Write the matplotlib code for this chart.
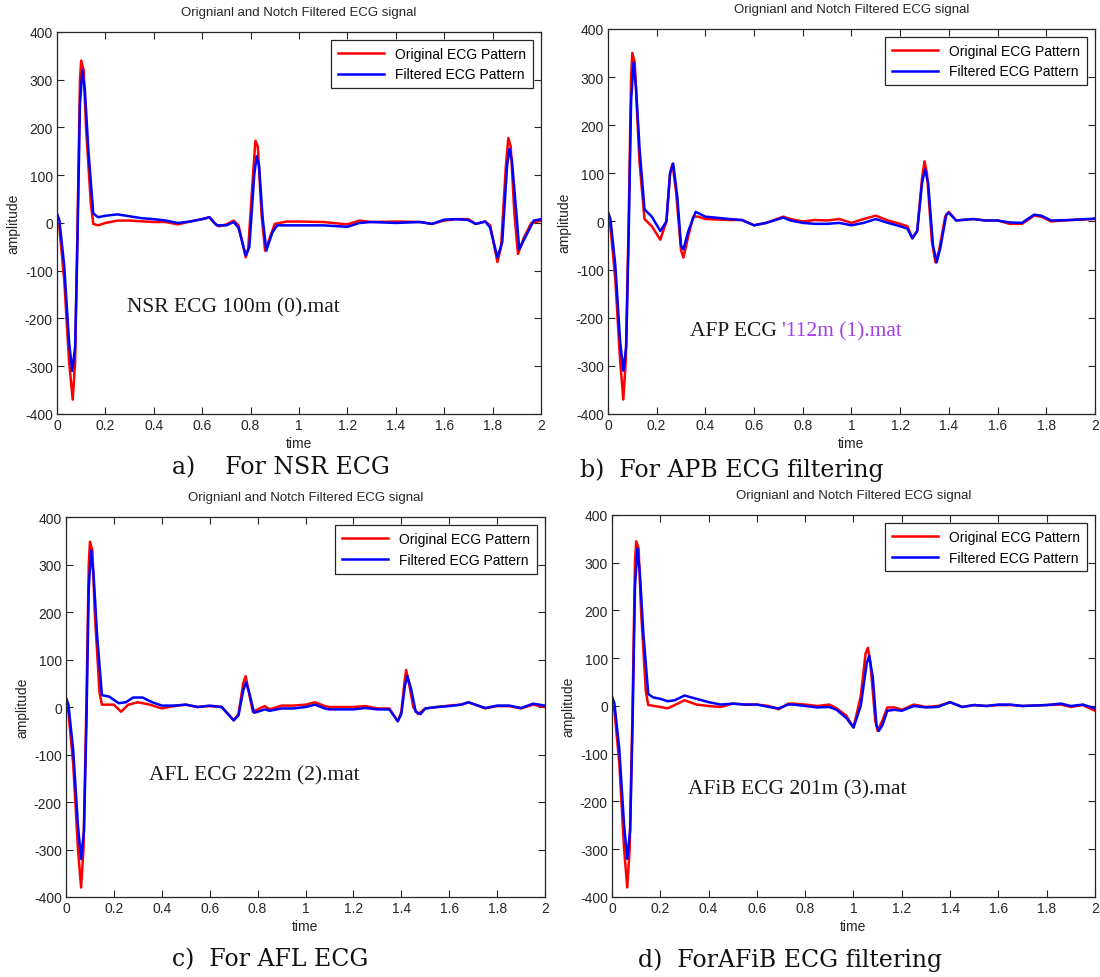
import numpy as np
import matplotlib
matplotlib.use("Agg")
import matplotlib.pyplot as plt

plt.rcParams['font.family'] = ['Liberation Sans', 'DejaVu Sans']
plt.rcParams['axes.unicode_minus'] = False

# a) NSR 100m
nsr_t_orig = [0, 0.01, 0.03, 0.05, 0.065, 0.075, 0.085, 0.095, 0.1, 0.11, 0.12, 0.14, 0.15, 0.17, 0.2,
              0.25, 0.3, 0.4, 0.45, 0.5, 0.55, 0.6, 0.63, 0.65, 0.67, 0.7, 0.73, 0.75, 0.78, 0.79,
              0.81, 0.82, 0.83, 0.845, 0.86, 0.88, 0.9, 0.95, 1.0, 1.1, 1.2, 1.25, 1.3, 1.4, 1.5,
              1.55, 1.6, 1.65, 1.7, 1.73, 1.77, 1.79, 1.82, 1.835, 1.855, 1.865, 1.875, 1.89, 1.905,
              1.93, 1.96, 2.0]
nsr_orig = [0, -10, -120, -290, -370, -290, 0, 300, 340, 320, 200, 40, -2, -5, 0,
            5, 5, 2, 2, -3, 3, 8, 12, 0, -7, -3, 5, -5, -72, -55,
            100, 172, 160, 20, -58, -30, -2, 3, 3, 2, -3, 5, 2, 3, 2,
            -2, 5, 8, 8, -2, 3, -5, -82, -50, 120, 178, 160, 20, -65,
            -30, 0, 5]
nsr_t_filt = [0, 0.01, 0.03, 0.05, 0.063, 0.075, 0.085, 0.095, 0.105, 0.115, 0.13, 0.15, 0.17, 0.2,
              0.25, 0.3, 0.35, 0.4, 0.45, 0.5, 0.55, 0.6, 0.63, 0.66, 0.7, 0.73, 0.75, 0.78, 0.795,
              0.815, 0.825, 0.835, 0.85, 0.865, 0.89, 0.91, 1.0, 1.1, 1.2, 1.25, 1.3, 1.4, 1.5,
              1.55, 1.6, 1.65, 1.7, 1.73, 1.77, 1.79, 1.82, 1.84, 1.86, 1.87, 1.88, 1.9, 1.91,
              1.94, 1.97, 2.0]
nsr_filt = [20, 5, -90, -250, -310, -260, -30, 250, 320, 280, 150, 20, 12, 15,
            18, 14, 10, 8, 5, 0, 3, 8, 12, -5, -5, 2, -10, -68, -50,
            100, 140, 120, 10, -58, -20, -5, -5, -5, -8, 0, 2, 0, 2,
            -2, 7, 8, 6, -2, 3, -10, -72, -40, 120, 155, 130, 10, -55,
            -25, 5, 8]

# b) APB 112m
apb_t_orig = [0, 0.01, 0.03, 0.05, 0.063, 0.073, 0.085, 0.095, 0.1, 0.11, 0.12, 0.13, 0.15, 0.18,
              0.215, 0.24, 0.255, 0.265, 0.28, 0.3, 0.31, 0.33, 0.35, 0.37, 0.4, 0.5, 0.55, 0.6,
              0.65, 0.72, 0.75, 0.8, 0.85, 0.9, 0.95, 1.0, 1.05, 1.1, 1.15, 1.2, 1.23, 1.25, 1.27,
              1.29, 1.3, 1.31, 1.33, 1.345, 1.36, 1.385, 1.4, 1.43, 1.5, 1.55, 1.6, 1.65, 1.7,
              1.75, 1.78, 1.82, 1.9, 2.0]
apb_orig = [0, -10, -120, -290, -370, -290, 0, 300, 350, 330, 220, 120, 5, -10,
            -38, 0, 100, 120, 60, -60, -75, -30, 10, 10, 5, 3, 3, -8,
            -3, 10, 5, 0, 3, 2, 5, -3, 5, 12, 2, -5, -10, -35, -20,
            90, 125, 100, -40, -85, -60, 10, 20, 2, 5, 2, 2, -5, -5,
            12, 10, 0, 3, 5]
apb_t_filt = [0, 0.01, 0.03, 0.05, 0.063, 0.075, 0.085, 0.095, 0.105, 0.115, 0.13, 0.15, 0.18,
              0.215, 0.24, 0.255, 0.268, 0.285, 0.3, 0.31, 0.33, 0.36, 0.4, 0.5, 0.55, 0.6,
              0.65, 0.72, 0.75, 0.8, 0.85, 0.9, 0.95, 1.0, 1.05, 1.1, 1.15, 1.2, 1.23, 1.25, 1.27,
              1.29, 1.302, 1.315, 1.335, 1.35, 1.365, 1.39, 1.4, 1.43, 1.5, 1.55, 1.6, 1.65, 1.7,
              1.75, 1.78, 1.82, 1.9, 2.0]
apb_filt = [20, 5, -90, -250, -310, -260, -30, 250, 330, 280, 150, 25, 10,
            -20, 0, 100, 120, 50, -50, -58, -20, 20, 10, 5, 3, -8,
            -3, 8, 2, -3, -5, -5, -3, -8, -3, 5, -3, -10, -15, -35, -20,
            80, 108, 80, -50, -85, -55, 15, 18, 2, 5, 2, 2, -2, -3,
            14, 12, 2, 3, 6]

# c) AFL 222m
afl_t_orig = [0, 0.01, 0.03, 0.05, 0.063, 0.073, 0.085, 0.095, 0.1, 0.11, 0.12, 0.14, 0.15, 0.2,
              0.23, 0.26, 0.3, 0.35, 0.4, 0.45, 0.5, 0.55, 0.6, 0.65, 0.7, 0.72, 0.74, 0.75, 0.76,
              0.78, 0.8, 0.83, 0.85, 0.9, 0.95, 1.0, 1.04, 1.08, 1.1, 1.2, 1.25, 1.3, 1.35, 1.385,
              1.4, 1.415, 1.42, 1.43, 1.45, 1.47, 1.5, 1.55, 1.6, 1.65, 1.68, 1.72, 1.75, 1.8,
              1.85, 1.9, 1.95, 2.0]
afl_orig = [0, -10, -120, -300, -380, -300, 0, 300, 348, 330, 200, 30, 5, 5,
            -10, 5, 10, 5, -3, 2, 5, 0, 2, 0, -28, -15, 50, 65, 40,
            -10, -5, 2, -5, 3, 3, 5, 10, 2, 0, 0, 2, -3, -3, -30,
            -10, 60, 78, 55, 0, -15, -3, 0, 3, 5, 10, 3, -3, 2,
            2, -3, 5, 0]
afl_t_filt = [0, 0.01, 0.03, 0.05, 0.063, 0.075, 0.085, 0.095, 0.105, 0.115, 0.13, 0.15, 0.18,
              0.22, 0.25, 0.28, 0.32, 0.36, 0.4, 0.45, 0.5, 0.55, 0.6, 0.65, 0.7, 0.72, 0.74,
              0.752, 0.765, 0.785, 0.8, 0.83, 0.85, 0.9, 0.95, 1.0, 1.04, 1.08, 1.1, 1.2, 1.25,
              1.3, 1.35, 1.385, 1.4, 1.415, 1.425, 1.44, 1.46, 1.48, 1.5, 1.55, 1.6, 1.65, 1.68,
              1.72, 1.75, 1.8, 1.85, 1.9, 1.95, 2.0]
afl_filt = [20, 5, -90, -250, -320, -260, -40, 250, 330, 280, 150, 25, 22,
            8, 10, 20, 20, 10, 3, 3, 5, 0, 3, 0, -28, -18, 35,
            52, 30, -12, -10, -5, -8, -3, -3, 0, 5, -3, -5, -5, -2,
            -5, -5, -30, -15, 45, 65, 40, -10, -15, -3, 0, 2, 5, 10,
            3, -2, 3, 3, -2, 7, 3]

# d) AFiB 201m
afib_t_orig = [0, 0.01, 0.03, 0.05, 0.063, 0.073, 0.085, 0.095, 0.1, 0.11, 0.12, 0.14, 0.15, 0.2,
               0.23, 0.26, 0.3, 0.35, 0.4, 0.45, 0.5, 0.55, 0.6, 0.65, 0.69, 0.73, 0.75, 0.8,
               0.85, 0.9, 0.93, 0.97, 1.0, 1.03, 1.05, 1.06, 1.07, 1.09, 1.1, 1.12, 1.14, 1.17,
               1.2, 1.25, 1.3, 1.35, 1.4, 1.45, 1.5, 1.55, 1.6, 1.65, 1.7, 1.8, 1.86, 1.9, 1.95, 2.0]
afib_orig = [0, -10, -120, -300, -380, -300, 0, 300, 345, 330, 200, 30, 2, -2,
             -5, 2, 12, 3, 0, -2, 5, 3, 3, 0, -7, 5, 5, 3,
             0, 3, -5, -20, -45, 20, 110, 122, 90, -30, -52, -30, -3, -3,
             -8, 3, -2, 0, 8, -2, 2, 0, 2, 2, 0, 2, 3, -2, 2, -10]
afib_t_filt = [0, 0.01, 0.03, 0.05, 0.063, 0.075, 0.085, 0.095, 0.105, 0.115, 0.13, 0.15, 0.17,
               0.2, 0.23, 0.26, 0.3, 0.35, 0.4, 0.45, 0.5, 0.55, 0.6, 0.65, 0.69, 0.73, 0.75,
               0.8, 0.85, 0.9, 0.93, 0.97, 1.0, 1.03, 1.055, 1.065, 1.08, 1.095, 1.105, 1.12,
               1.14, 1.17, 1.2, 1.25, 1.3, 1.35, 1.4, 1.45, 1.5, 1.55, 1.6, 1.65, 1.7, 1.8,
               1.86, 1.9, 1.95, 2.0]
afib_filt = [20, 5, -90, -250, -320, -260, -40, 250, 330, 280, 150, 25, 18,
             15, 10, 12, 22, 15, 8, 3, 5, 3, 3, -2, -5, 3, 3,
             0, -3, -2, -8, -25, -45, 0, 90, 105, 60, -40, -52, -40,
             -10, -8, -10, 0, -3, -2, 8, -2, 2, 0, 3, 3, 0, 2,
             5, 0, 3, -5]

x_ticks = [0, 0.2, 0.4, 0.6, 0.8, 1, 1.2, 1.4, 1.6, 1.8, 2]
x_tick_labels = ["0", "0.2", "0.4", "0.6", "0.8", "1", "1.2", "1.4", "1.6", "1.8", "2"]
y_ticks = [-400, -300, -200, -100, 0, 100, 200, 300, 400]


# 画一个子图: 原始信号 + 滤波后信号
def draw_panel(rect, t_orig, y_orig, t_filt, y_filt):
    ax = fig.add_axes(rect)
    ax.plot(t_orig, y_orig, color="#ff0000", lw=1.8, label="Original ECG Pattern")
    ax.plot(t_filt, y_filt, color="#0000ff", lw=1.8, label="Filtered ECG Pattern")
    ax.set_xlim(0, 2)
    ax.set_ylim(-400, 400)
    ax.set_xticks(x_ticks)
    ax.set_xticklabels(x_tick_labels)
    ax.set_yticks(y_ticks)
    ax.tick_params(direction="in", top=True, right=True, length=5, width=0.8,
                   labelsize=10, colors="#262626", pad=3)
    for s in ax.spines.values():
        s.set_linewidth(0.9)
        s.set_color("#262626")
    ax.set_title("Orignianl and Notch Filtered ECG signal", fontsize=9.5, pad=12, color="#262626")
    ax.set_xlabel("time", fontsize=10, labelpad=3, color="#262626")
    ax.set_ylabel("amplitude", fontsize=10, labelpad=3, color="#262626")
    leg = ax.legend(loc="upper right", fontsize=10, handlelength=3.3, fancybox=False,
                    framealpha=1, edgecolor="#262626", borderaxespad=0.6,
                    labelspacing=0.45, borderpad=0.5, handletextpad=0.8)
    leg.get_frame().set_linewidth(0.9)
    return ax


fig = plt.figure(figsize=(11, 9.78), dpi=100)

# 1, 四个子图 (位置按像素换算)
ax_a = draw_panel([0.0518, 0.5757, 0.44, 0.3906], nsr_t_orig, nsr_orig, nsr_t_filt, nsr_filt)
ax_b = draw_panel([0.5527, 0.5757, 0.4427, 0.3937], apb_t_orig, apb_orig, apb_t_filt, apb_filt)
ax_c = draw_panel([0.06, 0.0818, 0.4355, 0.3885], afl_t_orig, afl_orig, afl_t_filt, afl_filt)
ax_d = draw_panel([0.5564, 0.0818, 0.439, 0.3906], afib_t_orig, afib_orig, afib_t_filt, afib_filt)

# 2, 图内文件名标注
serif = ["Liberation Serif", "DejaVu Serif"]
ax_a.text(0.29, -176, "NSR ECG 100m (0).mat", fontsize=15.5, family=serif, va="center", color="#1a1a1a")
t1 = ax_b.text(0.337, -227, "AFP ECG ", fontsize=15.5, family=serif, va="center", color="#1a1a1a")
ax_b.annotate("'112m (1).mat", xycoords=t1, xy=(1, 0.5), va="center", fontsize=15.5,
              family=serif, color="#a040e8")
ax_c.text(0.347, -143, "AFL ECG 222m (2).mat", fontsize=15.5, family=serif, va="center", color="#1a1a1a")
ax_d.text(0.315, -174, "AFiB ECG 201m (3).mat", fontsize=15.5, family=serif, va="center", color="#1a1a1a")

# 3, 子图下方的说明文字
cap = dict(fontsize=17, family=["DejaVu Serif"], va="center", ha="left", color="#111111")
fig.text(172 / 1100, 1 - 468 / 978, "a)    For NSR ECG", **cap)
fig.text(580 / 1100, 1 - 470 / 978, "b)  For APB ECG filtering", **cap)
fig.text(172 / 1100, 1 - 960 / 978, "c)  For AFL ECG", **cap)
fig.text(638 / 1100, 1 - 960 / 978, "d)  ForAFiB ECG filtering", **cap)

plt.savefig("out.png", dpi=100)
plt.close()
